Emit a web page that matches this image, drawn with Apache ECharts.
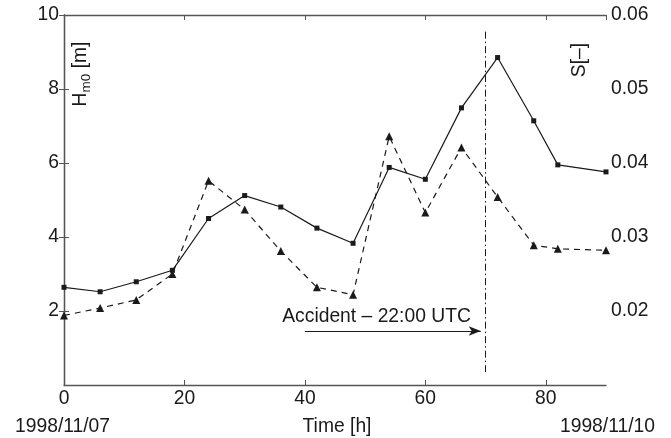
<!DOCTYPE html>
<html>
<head>
<meta charset="utf-8">
<script src="https://cdn.jsdelivr.net/npm/echarts@6/dist/echarts.min.js"></script>
<style>html,body{margin:0;padding:0;background:#fff}#c{width:671px;height:438px}</style>
</head>
<body>
<div id="c"></div>
<script>
// Data
var timeH = [0, 6, 12, 18, 24, 30, 36, 42, 48, 54, 60, 66, 72, 78, 82, 90];
var hm0 = [2.64, 2.52, 2.79, 3.10, 4.50, 5.12, 4.81, 4.24, 3.83, 5.88, 5.56, 7.49, 8.85, 7.14, 5.95, 5.76];
var steep = [0.0194, 0.0204, 0.0215, 0.0250, 0.0376, 0.0337, 0.0281, 0.0232, 0.0222, 0.0436, 0.0333, 0.0421, 0.0354, 0.0289, 0.0284, 0.0282];
var accidentTime = 70;
var arrowFrom = 40, arrowTo = 69.2, arrowLevel = 1.46;
var accidentLabel = 'Accident – 22:00 UTC';
var labelPos = [51.9, 1.85];
var startDate = '1998/11/07', endDate = '1998/11/10';

var FONT = 'Liberation Sans, Arial, Helvetica, sans-serif';
var FS = 19.3;
var ink = '#1a1a1a';
var axisCol = '#555';

function pairs(xs, ys) { return xs.map(function (x, i) { return [x, ys[i]]; }); }

var chart = echarts.init(document.getElementById('c'));
var option = {
  animation: false,
  backgroundColor: '#fff',
  textStyle: { fontFamily: FONT },
  grid: { left: 64, right: 65, top: 15, bottom: 53, containLabel: false },
  xAxis: [
    {
      type: 'value', min: 0, max: 90, interval: 20, position: 'bottom',
      axisLine: { show: true, lineStyle: { color: axisCol, width: 1.3 } },
      axisTick: { show: true, inside: true, length: 5, lineStyle: { color: axisCol } },
      axisLabel: { color: ink, fontSize: FS, fontFamily: FONT, margin: 4, showMaxLabel: false,
        formatter: function (v) { return v === 90 ? '' : String(v); } },
      splitLine: { show: false }
    },
    {
      type: 'value', min: 0, max: 90, interval: 20, position: 'top',
      axisLine: { show: true, lineStyle: { color: axisCol, width: 1.3 } },
      axisTick: { show: true, inside: true, length: 5, lineStyle: { color: axisCol } },
      axisLabel: { show: false },
      splitLine: { show: false }
    }
  ],
  yAxis: [
    {
      type: 'value', min: 0, max: 10, interval: 2, position: 'left',
      axisLine: { show: true, lineStyle: { color: axisCol, width: 1.3 } },
      axisTick: { show: true, inside: true, length: 5, lineStyle: { color: axisCol } },
      axisLabel: { color: ink, fontSize: FS, fontFamily: FONT, margin: 5, showMinLabel: false },
      splitLine: { show: false }
    },
    {
      type: 'value', min: 0.01, max: 0.06, interval: 0.01, position: 'right',
      axisLine: { show: true, lineStyle: { color: axisCol, width: 1.3 } },
      axisTick: { show: true, inside: true, length: 5, lineStyle: { color: axisCol } },
      axisLabel: { color: ink, fontSize: FS, fontFamily: FONT, margin: 5, showMinLabel: false,
        formatter: function (v) { return v.toFixed(2); } },
      splitLine: { show: false }
    }
  ],
  series: [
    {
      name: 'Hm0', type: 'line', xAxisIndex: 0, yAxisIndex: 0,
      data: pairs(timeH, hm0),
      symbol: 'rect', symbolSize: 5,
      lineStyle: { color: ink, width: 1.2, type: 'solid' },
      itemStyle: { color: ink },
      z: 3,
      markLine: {
        silent: true, animation: false,
        label: { show: false },
        emphasis: { disabled: true },
        data: [
          [
            { coord: [accidentTime, 9.55], symbol: 'none', lineStyle: { type: [7, 3, 1.5, 3], color: ink, width: 1 } },
            { coord: [accidentTime, 0.3], symbol: 'none' }
          ],
          [
            { coord: [arrowFrom, arrowLevel], symbol: 'none', lineStyle: { type: 'solid', color: ink, width: 1.2 } },
            { coord: [arrowTo, arrowLevel], symbol: 'arrow', symbolSize: [7, 12] }
          ]
        ]
      },
      markPoint: {
        silent: true,
        symbol: 'circle', symbolSize: 1,
        itemStyle: { color: 'rgba(0,0,0,0)' },
        data: [{ coord: labelPos, value: 1 }],
        label: { show: true, position: 'inside', color: ink, fontSize: FS, fontFamily: FONT,
          formatter: function () { return accidentLabel; } }
      }
    },
    {
      name: 'S', type: 'line', xAxisIndex: 0, yAxisIndex: 1,
      data: pairs(timeH, steep),
      symbol: 'triangle', symbolSize: 8,
      lineStyle: { color: ink, width: 1.2, type: [6, 5] },
      itemStyle: { color: ink },
      z: 3
    }
  ],
  graphic: [
    {
      type: 'text', x: 81, y: 74, rotation: Math.PI / 2,
      style: {
        text: '{a|H}{b|m0}{a| [m]}',
        align: 'center', verticalAlign: 'middle', fill: ink,
        rich: {
          a: { fontSize: FS, fontFamily: FONT, fill: ink, lineHeight: 24, verticalAlign: 'middle' },
          b: { fontSize: 13.5, fontFamily: FONT, fill: ink, verticalAlign: 'bottom', lineHeight: 24, padding: [10, 0, 0, 0] }
        }
      }
    },
    {
      type: 'text', x: 580, y: 60, rotation: Math.PI / 2,
      style: { text: 'S[–]', font: FS + 'px ' + FONT, fill: ink, align: 'center', verticalAlign: 'middle' }
    },
    {
      type: 'text', x: 337, y: 427,
      style: { text: 'Time [h]', font: FS + 'px ' + FONT, fill: ink, align: 'center', verticalAlign: 'middle' }
    },
    {
      type: 'text', x: 15, y: 427,
      style: { text: startDate, font: FS + 'px ' + FONT, fill: ink, align: 'left', verticalAlign: 'middle' }
    },
    {
      type: 'text', x: 655, y: 427,
      style: { text: endDate, font: FS + 'px ' + FONT, fill: ink, align: 'right', verticalAlign: 'middle' }
    }
  ]
};
chart.setOption(option);
</script>
</body>
</html>
